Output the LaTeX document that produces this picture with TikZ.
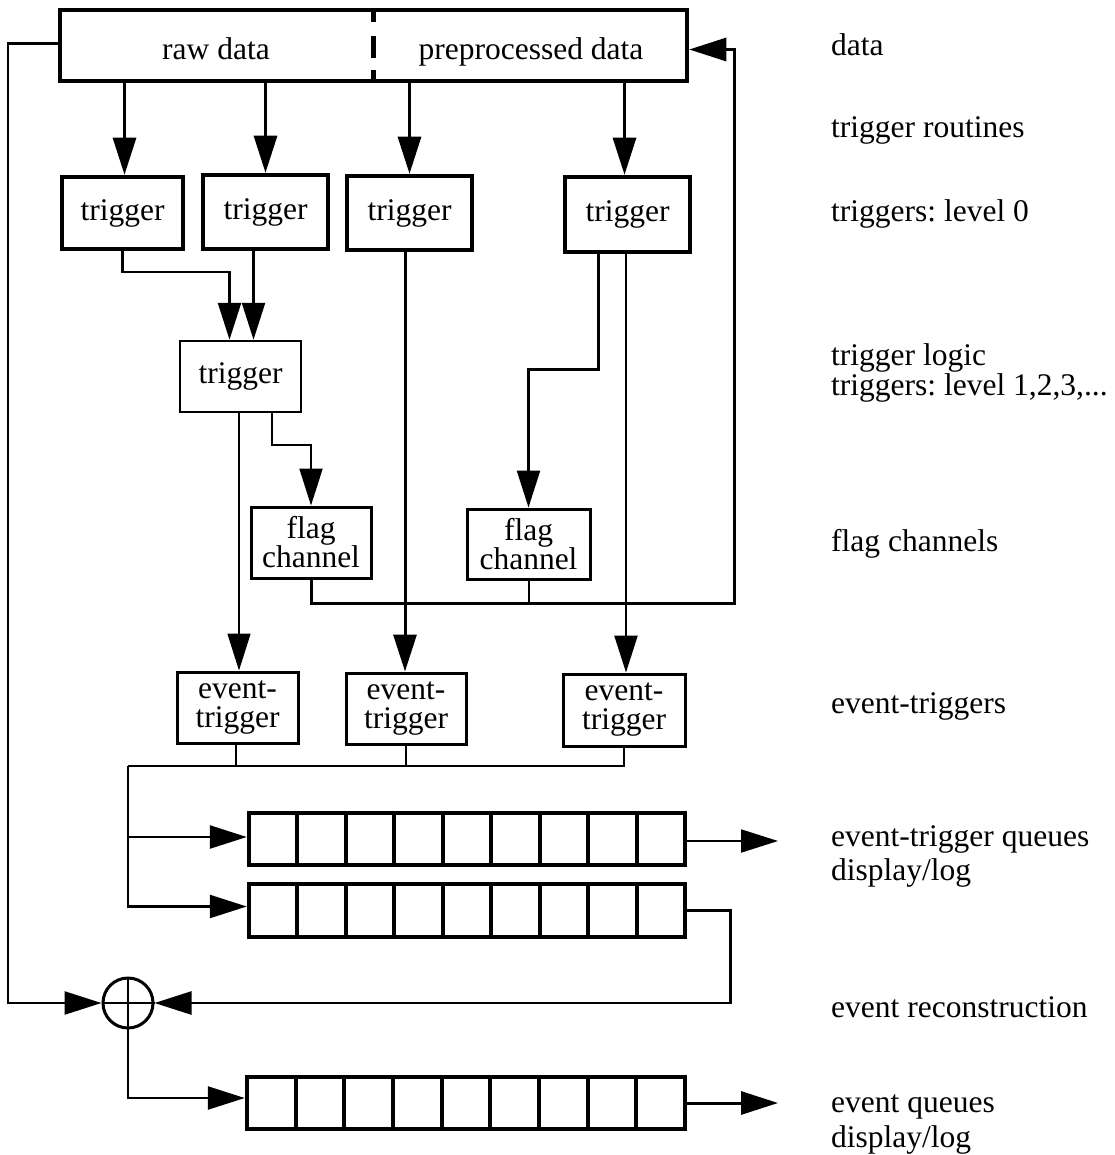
\documentclass[tikz,border=0pt]{standalone}
\usepackage{fontspec}
\setmainfont{Liberation Serif}
\usetikzlibrary{arrows.meta,calc}
\frenchspacing
\begin{document}
\begin{tikzpicture}[x=1pt,y=-1pt,
  font=\fontsize{31.5}{29}\selectfont,
  every node/.style={inner sep=0pt},
  heavybox/.style={draw, rectangle, line width=4.5pt},
  midbox/.style={draw, rectangle, line width=3pt},
  thinbox/.style={draw, rectangle, line width=2.5pt},
  twoline/.style={align=center, font=\fontsize{31.5}{29}\selectfont},
  tipbig/.style={-{Triangle[length=37pt,width=23pt]}},
  conn/.style={line width=2.5pt, tipbig},
  thinconn/.style={line width=1.6pt, tipbig},
  wire/.style={line width=2.5pt},
  qdiv/.style={line width=4pt},
  lab/.style={anchor=base west},
]
\useasboundingbox (0,0) rectangle (1114,1155);

% top data box
\node[heavybox, minimum width=627pt, minimum height=71pt] (top) at (373.5,45.5) {};
\node[anchor=base] (raw) at (216,60) {raw data};
\node[anchor=base] (pre) at (531,60) {preprocessed data};
\coordinate (dv1) at (373,10);
\coordinate (dv2) at (373,81);
\draw[line width=5pt] (dv1) -- ++(0,12);
\draw[line width=5pt] ($(dv1)+(0,26)$) -- ++(0,22);
\draw[line width=5pt] (dv2) -- ++(0,-11);

% level 0 triggers
\node[heavybox, minimum width=121pt, minimum height=72pt] (t1) at (122.5,213) {trigger};
\node[heavybox, minimum width=125pt, minimum height=74pt] (t2) at (265.5,212) {trigger};
\node[heavybox, minimum width=125pt, minimum height=74pt] (t3) at (409.5,213) {trigger};
\node[heavybox, minimum width=125pt, minimum height=75pt] (t4) at (627.5,214.5) {trigger};

% logic trigger
\node[thinbox, minimum width=121pt, minimum height=71pt] (l1) at (240.5,376.5) {trigger};

% flag channels
\node[midbox, twoline, minimum width=120pt, minimum height=71pt] (fc1) at (311,542.5) {flag\\channel};
\node[midbox, twoline, minimum width=123pt, minimum height=70pt] (fc2) at (528.5,544) {flag\\channel};

% event triggers
\node[midbox, twoline, minimum width=121pt, minimum height=71pt] (et1) at (237.5,707.5) {event-\\trigger};
\node[midbox, twoline, minimum width=120pt, minimum height=71pt] (et2) at (406,708.5) {event-\\trigger};
\node[midbox, twoline, minimum width=122pt, minimum height=72pt] (et3) at (624,710) {event-\\trigger};

% queues
\node[heavybox, minimum width=436pt, minimum height=52pt] (q1) at (467,839) {};
\node[heavybox, minimum width=436pt, minimum height=53pt] (q2) at (467,910.5) {};
\node[heavybox, minimum width=438pt, minimum height=52pt] (q3) at (466,1103) {};
\foreach \qx/\qt/\qw in {249/813/48.44, 249/884/48.44, 247/1077/48.67}
  \foreach \i in {1,...,8}
    \draw[qdiv] ({\qx+\i*\qw},\qt) -- ++(0,52);

% combining circle
\node[draw, circle, line width=3pt, minimum size=50pt] (circ) at (128,1003) {};
\draw[line width=1.5pt] (circ.north) -- (circ.south);
\draw[line width=1.5pt] (circ.west) -- (circ.east);

% data -> level 0 triggers
\draw[conn, line width=3pt] ([xshift=2pt]t1.north |- top.south) -- ([xshift=2pt]t1.north);
\draw[conn, line width=3pt] (t2.north |- top.south) -- (t2.north);
\draw[conn, line width=3pt] (t3.north |- top.south) -- (t3.north);
\draw[conn, line width=3pt] ([xshift=-3pt]t4.north |- top.south) -- ([xshift=-3pt]t4.north);

% level 0 -> logic
\draw[conn] (t1.south) -- ++(0,21) -| ([xshift=-11pt]l1.north);
\draw[conn] ([xshift=13pt]l1.north |- t2.south) -- ([xshift=13pt]l1.north);

% logic -> event trigger / flag channel
\draw[thinconn] ([xshift=-1.5pt]l1.south) -- ([xshift=1.5pt]et1.north);
\draw[line width=2pt, tipbig] ([xshift=31pt]l1.south) -- ++(0,32) -| (fc1.north);

% level 0 -> event triggers / flag channel
\draw[conn, line width=3pt] ([xshift=-1pt]et2.north |- t3.south) -- ([xshift=-1pt]et2.north);
\draw[conn] ([xshift=-29pt]t4.south) -- ++(0,115) -| (fc2.north);
\draw[conn] ([xshift=2pt]et3.north |- t4.south) -- ([xshift=2pt]et3.north);

% flag channel feedback bus
\coordinate (fb) at (734,603);
\draw[line width=3pt, tipbig] (fc1.south) |- (fb) |- ([yshift=-4pt]top.east);
\draw[line width=2pt] (fc2.south) -- (fc2.south |- fb);

% event trigger bus
\coordinate (eb) at (128,766);
\draw[wire] (et3.south) |- (eb);
\draw[line width=2pt] ([xshift=-2pt]et1.south) -- ([xshift=-2pt]et1.south |- eb);
\draw[line width=2pt] (et2.south) -- (et2.south |- eb);
\draw[conn] (eb) |- ([yshift=2pt]q1.west);
\draw[conn] (eb) |- ([yshift=4pt]q2.west);

% queue outputs and reconstruction
\coordinate (o1) at (778,841);
\coordinate (o3) at (778,1103);
\draw[line width=2pt, tipbig] ([yshift=-2pt]q1.east) -- (o1);
\draw[conn] (q2.east) -- ++(43,0) |- (circ.east);
\draw[conn] ([yshift=2pt]top.west) -- ++(-50,0) |- (circ.west);
\draw[conn] (circ.south) |- ([yshift=5pt]q3.west);
\draw[line width=3pt, tipbig] (q3.east) -- (o3);

% right-hand labels
\node[lab] (ld) at (831,56) {data};
\node[lab] (lr) at (831,138) {trigger routines};
\node[lab] (l0) at (831,222) {triggers: level 0};
\node[lab] (llg) at (831,365) {trigger logic};
\node[lab] (llv) at (831,395) {triggers: level 1,2,3,...};
\node[lab] (lfc) at (831,551) {flag channels};
\node[lab] (let) at (831,713) {event-triggers};
\node[lab] (leq) at (831,846) {event-trigger queues};
\node[lab] (ldl1) at (831,880) {display/log};
\node[lab] (lrc) at (831,1017) {event reconstruction};
\node[lab] (lq) at (831,1112) {event queues};
\node[lab] (ldl2) at (831,1147) {display/log};
\end{tikzpicture}
\end{document}
